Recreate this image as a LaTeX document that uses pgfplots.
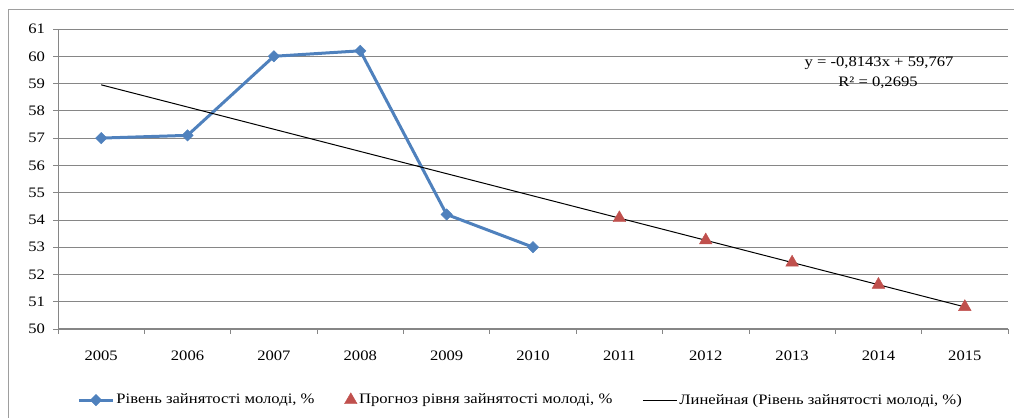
\documentclass[border=0pt]{standalone}
\usepackage{fontspec}
\setmainfont{Liberation Serif}[FakeStretch=1.15]
\usepackage{pgfplots}
\pgfplotsset{compat=1.18}
\definecolor{exblue}{HTML}{4F81BD}
\definecolor{exred}{HTML}{C0504D}
\definecolor{axgray}{HTML}{868686}
\begin{document}
\fontsize{14.5}{17}\selectfont
\begin{tikzpicture}
\useasboundingbox (0,0) rectangle (1014bp,418bp);
\draw[axgray!80,line width=0.8bp] (8bp,-2bp) -- (8bp,409bp) -- (1016bp,409bp);
\begin{axis}[
  at={(58bp,89bp)}, anchor=south west,
  scale only axis, width=950bp, height=300bp,
  xmin=0.5, xmax=11.5, ymin=50, ymax=61,
  xtick={1,...,11},
  xticklabels={2005,2006,2007,2008,2009,2010,2011,2012,2013,2014,2015},
  minor xtick={0.5,1.5,...,11.5},
  ytick={50,51,...,61},
  axis x line*=bottom, axis y line*=left,
  axis line style={-,draw=axgray,line width=1bp},
  tick align=outside,
  major x tick style={draw=none},
  minor x tick style={draw=axgray,line width=0.8bp},
  y tick style={draw=axgray,line width=0.8bp},
  major tick length=5bp, minor tick length=5bp,
  ymajorgrids, grid style={draw=axgray,line width=0.8bp},
  /pgf/number format/assume math mode=true,
  tick label style={font=\fontsize{14.5}{17}\selectfont},
  yticklabel style={xshift=-3bp},
  xticklabel style={yshift=-12bp},
  legend columns=3,
  legend style={draw=none, fill=none, at={(0.487,-0.237)}, anchor=center,
    font=\fontsize{14.5}{17}\selectfont,
    /tikz/every even column/.append style={column sep=28bp}},
  legend cell align=left,
  legend image code/.code={\draw[mark repeat=2,mark phase=2,#1] plot coordinates {(0bp,0bp) (17bp,0bp) (34bp,0bp)};},
]
\addplot[exblue, line width=3bp, mark=square*, mark size=4bp, mark options={rotate=45, solid, fill=exblue, draw=exblue, line width=0.5bp}]
  coordinates {(1,57) (2,57.1) (3,60) (4,60.2) (5,54.2) (6,53)};
\addlegendentry{Рівень зайнятості молоді, \%}
\addplot[only marks, mark=triangle*, mark size=7.3bp, mark options={fill=exred, draw=exred}]
  coordinates {(7,54.0669) (8,53.2526) (9,52.4383) (10,51.624) (11,50.8097)};
\addlegendentry{Прогноз рівня зайнятості молоді, \%}
\addplot[black, line width=1bp, no marks]
  coordinates {(1,58.9527) (11,50.8097)};
\addlegendentry{Линейная (Рівень зайнятості молоді, \%)}
\end{axis}
\node at (879bp,355bp) {y = -0,8143x + 59,767};
\node at (878bp,335bp) {R² = 0,2695};
\end{tikzpicture}
\end{document}
